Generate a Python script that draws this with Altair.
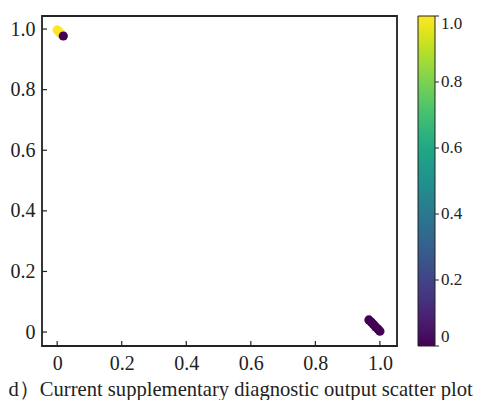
import altair as alt
import pandas as pd

# Data
yellow_x = [0.000, 0.003, 0.006, 0.009, 0.012]
yellow_y = [0.997, 0.994, 0.990, 0.987, 0.984]
purple_x = [0.019, 0.966, 0.973, 0.980, 0.987, 0.994, 1.000]
purple_y = [0.977, 0.040, 0.033, 0.025, 0.017, 0.010, 0.003]
yellow_val = 1.0
purple_val = 0.0

tick_values = [0.0, 0.2, 0.4, 0.6, 0.8, 1.0]
caption = "d）Current supplementary diagnostic output scatter plot"

rows = []
for x, y in zip(yellow_x, yellow_y):
    rows.append({"x": x, "y": y, "c": yellow_val, "o": 0})
for i, (x, y) in enumerate(zip(purple_x, purple_y)):
    rows.append({"x": x, "y": y, "c": purple_val, "o": 1})
df = pd.DataFrame(rows)
ticks = pd.DataFrame({"t": tick_values})

W, H = 355, 330
FONT = "Liberation Serif"
INK = "#222"
xscale = alt.Scale(domain=[-0.047, 1.053], nice=False, zero=False)
yscale = alt.Scale(domain=[-0.046, 1.043], nice=False, zero=False)
lab = "datum.value == 0 ? '0' : format(datum.value, '.1f')"

pts = alt.Chart(df).mark_circle(size=85, opacity=1).encode(
    x=alt.X("x:Q", scale=xscale,
            axis=alt.Axis(values=tick_values, tickSize=0, domain=False, grid=False,
                          labelExpr=lab, labelPadding=7, labelFontSize=20, labelFont=FONT,
                          labelColor=INK,
                          title=caption, titleFont=FONT, titleFontSize=20.6, titleFontWeight="normal",
                          titleColor=INK, titleX=-34, titleY=49, titleAlign="left",
                          titleBaseline="alphabetic", titleAnchor="start")),
    y=alt.Y("y:Q", scale=yscale,
            axis=alt.Axis(values=tick_values, tickSize=0, domain=False, grid=False,
                          labelExpr=lab, labelPadding=7, labelFontSize=20, labelFont=FONT,
                          labelColor=INK, title=None)),
    color=alt.Color("c:Q", scale=alt.Scale(scheme="viridis", domain=[0, 1]),
                    legend=alt.Legend(orient="none", legendX=376, legendY=0, title=None,
                                      gradientLength=H, gradientThickness=17,
                                      gradientStrokeColor=INK, gradientStrokeWidth=1,
                                      values=tick_values, labelExpr=lab,
                                      labelFont=FONT, labelFontSize=17, labelColor=INK,
                                      labelOffset=6, labelOverlap=False, labelBaseline="middle")),
    order=alt.Order("o:Q"),
)

xt = alt.Chart(ticks).mark_rule(color=INK, strokeWidth=1.2).encode(
    x=alt.X("t:Q", scale=xscale), y=alt.value(H), y2=alt.value(H - 5))
yt = alt.Chart(ticks).mark_rule(color=INK, strokeWidth=1.2).encode(
    y=alt.Y("t:Q", scale=yscale), x=alt.value(0), x2=alt.value(5))
frame = alt.Chart(ticks.head(1)).mark_rect(fill=None, stroke=INK, strokeWidth=1.8).encode(
    x=alt.value(0), x2=alt.value(W), y=alt.value(0), y2=alt.value(H))
ct = alt.Chart(ticks).mark_rule(color=INK, strokeWidth=1).encode(
    y=alt.Y("t:Q", scale=alt.Scale(domain=[0, 1], nice=False, zero=False), axis=None),
    x=alt.value(393), x2=alt.value(397))

main = alt.layer(pts, xt, yt, frame).resolve_scale(y="shared")
chart = alt.layer(main, ct).resolve_scale(y="independent").properties(
    width=W, height=H,
    autosize=alt.AutoSizeParams(type="none"),
    padding={"left": 34, "top": 8, "right": 79, "bottom": 54},
).configure_view(stroke=None).configure(background="white")

chart.save("out.html", embed_options={"renderer": "svg", "actions": False})
